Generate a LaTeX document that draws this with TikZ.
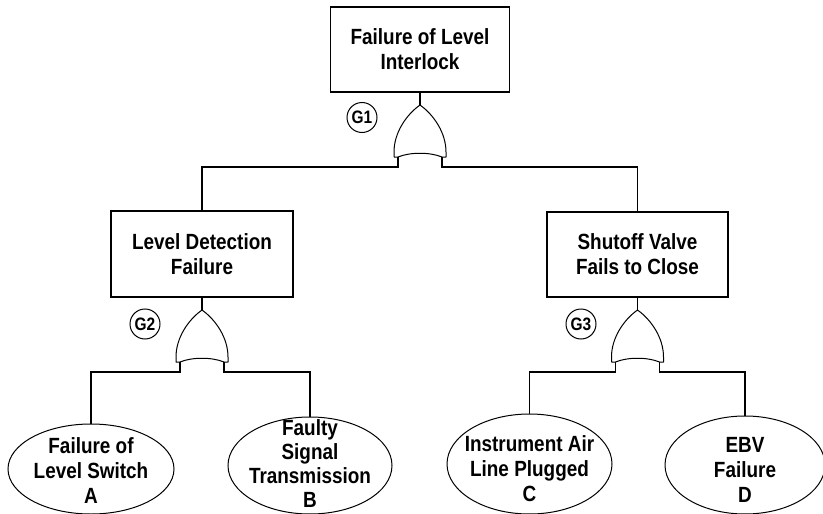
\documentclass[tikz,border=0pt]{standalone}
\usepackage{fontspec}
\newfontfamily\labelfont{Liberation Sans}[FakeStretch=0.86]
\usetikzlibrary{shapes.geometric}
\begin{document}
\begin{tikzpicture}[x=1pt,y=-1pt,
  every node/.style={font=\labelfont\bfseries\fontsize{22}{25}\selectfont, align=center, inner sep=0pt},
  event/.style={draw, line width=1.3pt},
  basic/.style={draw, ellipse, line width=1pt},
  gatetag/.style={draw, circle, line width=1pt, minimum size=30pt,
    font=\labelfont\bfseries\fontsize{18}{18}\selectfont},
  wire/.style={line width=1.2pt},
  orgate/.pic={
    \draw[line width=1pt, line join=round]
      (0,0) .. controls (-14,10) and (-26,28) .. (-26,47) -- (-26,52) -- (-22,52)
      .. controls (-10,47) and (10,47) .. (22,52) -- (26,52) -- (26,47)
      .. controls (26,28) and (14,10) .. (0,0);
    \coordinate (-tip) at (0,0);
    \coordinate (-l) at (-22,52);
    \coordinate (-r) at (22,52);
    \coordinate (-bl) at (-22,62);
    \coordinate (-br) at (22,62);
  }
]
\useasboundingbox (0,0) rectangle (823,514);

% events
\node[event, minimum width=179pt, minimum height=85pt] (top) at (420,49.5) {Failure of Level\\Interlock};
\node[event, minimum width=182pt, minimum height=86pt] (ldf) at (202,254) {Level Detection\\Failure};
\node[event, minimum width=181pt, minimum height=85pt] (svf) at (637.5,254.5) {Shutoff Valve\\Fails to Close};

% OR gates
\pic (g1) at (420,105) {orgate};
\pic (g2) at (202,310) {orgate};
\pic (g3) at (637.5,310) {orgate};

\node[gatetag] (t1) at (362,117.5) {G1};
\node[gatetag] (t2) at (145,324) {G2};
\node[gatetag] (t3) at (581,324) {G3};

% basic events
\node[basic, minimum width=166pt, minimum height=90pt] (ea) at (91,469) {};
\node[basic, minimum width=164pt, minimum height=97pt] (eb) at (310,465.5) {};
\node[basic, minimum width=165pt, minimum height=100pt] (ec) at (529.5,464) {};
\node[basic, minimum width=160pt, minimum height=98pt] (ed) at (745,465) {};
\node (ta) at ([yshift=-2pt]ea.center) {Failure of\\Level Switch\\A};
\node[font=\labelfont\bfseries\fontsize{22}{24}\selectfont] (tb) at ([yshift=2pt]eb.center) {Faulty\\Signal\\Transmission\\B};
\node (tc) at ([yshift=-5pt]ec.center) {Instrument Air\\Line Plugged\\C};
\node (td) at ([yshift=-5pt]ed.center) {EBV\\Failure\\D};

% connectors
\draw[wire] (top.south) -- (g1-tip);
\draw[wire] (g1-l) -- (g1-bl) -| (ldf.north);
\draw[wire] (g1-r) -- (g1-br) -| (svf.north);
\draw[wire] (ldf.south) -- (g2-tip);
\draw[wire] (svf.south) -- (g3-tip);
\draw[wire] (g2-l) -- (g2-bl) -| (ea.north);
\draw[wire] (g2-r) -- (g2-br) -| (eb.north);
\draw[wire] (g3-l) -- (g3-bl) -| (ec.north);
\draw[wire] (g3-r) -- (g3-br) -| (ed.north);
\end{tikzpicture}
\end{document}
